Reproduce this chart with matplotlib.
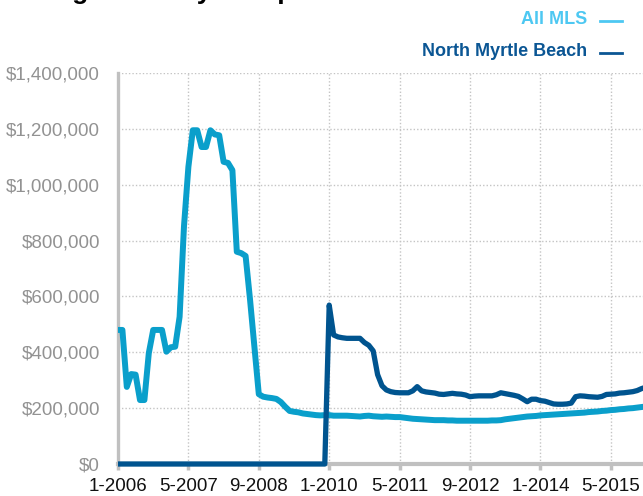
import matplotlib
matplotlib.use("Agg")
import matplotlib.pyplot as plt
from matplotlib.lines import Line2D
from matplotlib.ticker import FuncFormatter

# ---- data (values in dollars, monthly from 1-2006) ----
all_mls_k = [480, 480, 276, 322, 320, 229, 229, 397, 480, 480, 480, 402, 418, 420, 527, 852,
             1064, 1195, 1195, 1135, 1135, 1195, 1180, 1177, 1082, 1078, 1052, 760, 755, 745, 590, 420,
             250, 241, 238, 236, 233, 222, 205, 190, 187, 185, 181, 179, 177, 175, 174, 175,
             175, 173, 173, 173, 173, 172, 171, 170, 172, 173, 171, 170, 169, 170, 169, 168,
             168, 166, 164, 162, 161, 160, 159, 158, 157, 157, 157, 156, 156, 155, 155, 155,
             155, 155, 155, 155, 155, 156, 156, 157, 160, 162, 164, 166, 168, 170, 171, 172,
             174, 175, 176, 177, 178, 179, 180, 181, 182, 183, 184, 186, 187, 188, 190, 191,
             193, 194, 196, 197, 199, 200, 202, 204, 206]
nmb_k = [0] * 48 + [569, 462, 455, 452, 450, 450, 450, 450, 435, 425, 405, 320, 280, 265, 259, 256,
                    255, 255, 255, 262, 277, 262, 258, 256, 254, 250, 249, 251, 253, 251, 250, 247,
                    241, 243, 244, 244, 244, 244, 248, 255, 252, 249, 246, 242, 233, 223, 232, 232,
                    227, 225, 220, 215, 214, 214, 215, 218, 241, 244, 243, 241, 240, 239, 242, 249,
                    250, 251, 254, 255, 257, 259, 263, 270, 275]
all_mls = [v * 1000 for v in all_mls_k]
nmb = [v * 1000 for v in nmb_k]
months = list(range(len(all_mls)))

tick_months = [0, 16, 32, 48, 64, 80, 96, 112]
tick_labels = ["1-2006", "5-2007", "9-2008", "1-2010", "5-2011", "9-2012", "1-2014", "5-2015"]
y_ticks = [0, 200000, 400000, 600000, 800000, 1000000, 1200000, 1400000]
series_names = ["All MLS", "North Myrtle Beach"]

c_all = "#0a9fcb"
c_nmb = "#00548f"
c_all_txt = "#4dc8f2"
c_nmb_txt = "#0b5694"
grid_c = "#c4c4c4"
spine_c = "#c0c0c0"

plt.rcParams['font.family'] = ['Liberation Sans', 'DejaVu Sans']

W, H = 643, 496
fig = plt.figure(figsize=(W / 100, H / 100), dpi=100)
left, bottom, top = 118 / W, 1 - 464 / H, 1 - 73 / H
ax = fig.add_axes([left, bottom, 1 - left, top - bottom])

ax.plot(months, all_mls, color=c_all, lw=4.3, solid_joinstyle='round', solid_capstyle='butt', zorder=3)
ax.plot(months, nmb, color=c_nmb, lw=3.8, solid_joinstyle='round', solid_capstyle='butt', zorder=4,
        clip_on=False)

ax.set_ylim(0, 1400000)
ax.set_xlim(0, (W - 118) / 4.4)
ax.set_yticks(y_ticks)
ax.yaxis.set_major_formatter(FuncFormatter(lambda v, p: "${:,.0f}".format(v)))
ax.set_xticks(tick_months)
ax.set_xticklabels(tick_labels)

for s in ["top", "right"]:
    ax.spines[s].set_visible(False)
ax.spines["left"].set_color(spine_c)
ax.spines["left"].set_linewidth(2.4)
ax.spines["bottom"].set_color(spine_c)
ax.spines["bottom"].set_linewidth(3.0)
ax.spines["bottom"].set_zorder(2)

ax.grid(True, color=grid_c, linestyle=(0, (1, 1.5)), linewidth=1.0, zorder=0)
ax.set_axisbelow(True)

ax.tick_params(axis='y', length=0, pad=13, labelsize=13.5, labelcolor="#929292")
ax.tick_params(axis='x', length=4, width=2.5, color=spine_c, pad=6, labelsize=13.5, labelcolor="#111111")

# legend (top right)
leg_font = ['Liberation Sans Narrow', 'Liberation Sans', 'DejaVu Sans']
fig.text(587 / W, 1 - 20 / H, series_names[0], ha='right', va='center', fontsize=13,
         fontweight='bold', color=c_all_txt, family=leg_font)
fig.text(587 / W, 1 - 52 / H, series_names[1], ha='right', va='center', fontsize=13,
         fontweight='bold', color=c_nmb_txt, family=leg_font)
fig.add_artist(Line2D([600 / W, 622 / W], [1 - 21 / H, 1 - 21 / H], color=c_all_txt, lw=2,
                      transform=fig.transFigure))
fig.add_artist(Line2D([600 / W, 622 / W], [1 - 53 / H, 1 - 53 / H], color=c_nmb_txt, lw=2,
                      transform=fig.transFigure))

# title (cut off at the top of the image)
fig.text(0.0, 1 + 1.5 / H, "Average Monthly Comparison", ha='left', va='baseline', fontsize=19,
         fontweight='bold', color='black')

fig.savefig("out.png", dpi=100, facecolor='white')
